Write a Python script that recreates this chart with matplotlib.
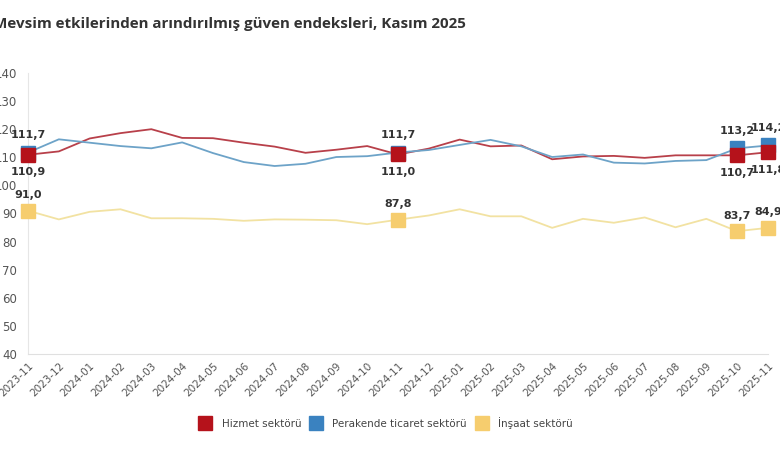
import numpy as np
import matplotlib
matplotlib.use("Agg")
import matplotlib.pyplot as plt
from matplotlib.lines import Line2D

months = ["2023-11", "2023-12", "2024-01", "2024-02", "2024-03", "2024-04", "2024-05",
          "2024-06", "2024-07", "2024-08", "2024-09", "2024-10", "2024-11", "2024-12",
          "2025-01", "2025-02", "2025-03", "2025-04", "2025-05", "2025-06", "2025-07",
          "2025-08", "2025-09", "2025-10", "2025-11"]

hizmet = [110.9, 112.1, 116.7, 118.6, 120.0, 116.9, 116.8, 115.2, 113.8, 111.6, 112.7, 114.0,
          111.0, 113.1, 116.3, 113.9, 114.2, 109.3, 110.3, 110.5, 109.8, 110.7, 110.7, 110.7, 111.8]
perakende = [111.7, 116.4, 115.2, 114.0, 113.2, 115.3, 111.5, 108.3, 106.9, 107.7, 110.1, 110.4,
             111.7, 112.6, 114.4, 116.2, 113.9, 110.1, 111.0, 108.1, 107.8, 108.7, 109.0, 113.2, 114.2]
insaat = [91.0, 87.9, 90.6, 91.5, 88.3, 88.3, 88.1, 87.4, 87.9, 87.8, 87.6, 86.2,
          87.8, 89.3, 91.5, 89.0, 89.0, 84.9, 88.1, 86.7, 88.6, 85.1, 88.1, 83.7, 84.9]

highlight = [0, 12, 23, 24]

series = [
    ("Hizmet sektörü", hizmet, "#b5121b", "#b8404a"),
    ("Perakende ticaret sektörü", perakende, "#3a82c0", "#6da3c8"),
    ("İnşaat sektörü", insaat, "#f6cd6e", "#f2e2a2"),
]
# marker stacking: red on top of blue
mz = {"Hizmet sektörü": 5, "Perakende ticaret sektörü": 4, "İnşaat sektörü": 4}

fig = plt.figure(figsize=(7.8, 4.7), dpi=100)
ax = fig.add_axes([28 / 780, 1 - 354 / 470, 740 / 780, 281 / 470])
x = np.arange(len(months))

for name, vals, mcol, lcol in series:
    ax.plot(x, vals, color=lcol, lw=1.3, zorder=2)
    hx = [x[i] for i in highlight]
    hy = [vals[i] for i in highlight]
    ax.plot(hx, hy, ls="none", marker="s", ms=10.5, color=mcol, zorder=mz[name], clip_on=False)

def fmt(v):
    return f"{v:.1f}".replace(".", ",")

lab = dict(ha="center", fontsize=8, fontweight="bold", color="#333333",
           textcoords="offset points", annotation_clip=False)
for i in highlight:
    # blue above, red below, yellow above
    ax.annotate(fmt(perakende[i]), (i, perakende[i]), xytext=(0, 9), va="bottom", **lab)
    ax.annotate(fmt(hizmet[i]), (i, hizmet[i]), xytext=(0, -9), va="top", **lab)
    ax.annotate(fmt(insaat[i]), (i, insaat[i]), xytext=(0, 7.5), va="bottom", **lab)

ax.set_xlim(0, 24)
ax.set_ylim(40, 140)
ax.set_yticks(range(40, 141, 10))
ax.set_xticks(x)
ax.set_xticklabels(months, rotation=45, ha="right", rotation_mode="anchor")
ax.tick_params(axis="y", length=0, pad=8, labelsize=8.5, labelcolor="#555555")
ax.tick_params(axis="x", length=0, pad=5, labelsize=7.5, labelcolor="#555555")

for s in ["top", "right"]:
    ax.spines[s].set_visible(False)
ax.spines["left"].set_color("#e6e6e6")
ax.spines["bottom"].set_color("#e0e0e0")

fig.text(-0.009, 0.948, "Mevsim etkilerinden arındırılmış güven endeksleri, Kasım 2025",
         fontsize=10.9, fontweight="bold", family="Open Sans", color="#333333",
         ha="left", va="center")

handles = [Line2D([], [], ls="none", marker="s", ms=10, color=mcol) for _, _, mcol, _ in series]
fig.legend(handles, [s[0] for s in series], loc="center", bbox_to_anchor=(0.492, 1 - 423 / 470),
           ncol=3, frameon=False, fontsize=7.5, handletextpad=0.6, columnspacing=0.4,
           labelcolor="#444444")

fig.savefig("out.png", dpi=100)
